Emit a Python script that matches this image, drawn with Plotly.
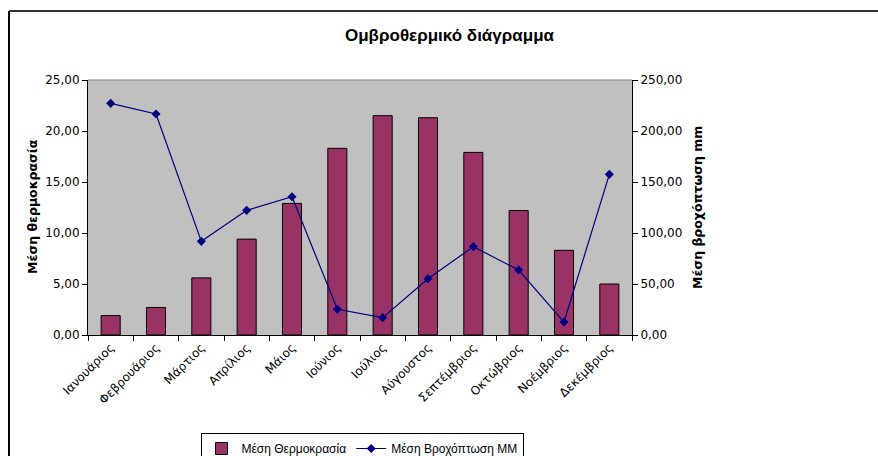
import plotly.graph_objects as go

months = ['Ιανουάριος', 'Φεβρουάριος', 'Μάρτιος', 'Απρίλιος', 'Μάιος', 'Ιούνιος',
          'Ιούλιος', 'Αύγουστος', 'Σεπτέμβριος', 'Οκτώβριος', 'Νοέμβριος', 'Δεκέμβριος']
mean_temp = [1.9, 2.7, 5.6, 9.4, 12.9, 18.3, 21.5, 21.3, 17.9, 12.2, 8.3, 5.0]
mean_rain = [227.1, 216.7, 91.8, 122.2, 135.6, 25.2, 17.0, 55.2, 86.6, 63.7, 12.7, 157.5]

W, H = 878, 456
L, R, T, B = 88, 632, 80, 335

fig = go.Figure()

fig.add_trace(go.Bar(
    x=months, y=mean_temp,
    name='Μέση Θερμοκρασία',
    marker=dict(color='#993366', line=dict(color='#000000', width=1)),
))

fig.add_trace(go.Scatter(
    x=months, y=mean_rain,
    name='Μέση Βροχόπτωση ΜΜ',
    mode='lines+markers',
    yaxis='y2',
    line=dict(color='#000080', width=1.2),
    marker=dict(symbol='diamond', size=7, color='#000080'),
))

axis_font = dict(family='DejaVu Sans', size=12, color='#000000')

def px_x(v):
    return (v - L) / (R - L)

def px_y(v):
    return (B - v) / (B - T)

fig.update_layout(
    width=W, height=H,
    margin=dict(l=L, r=W - R, t=T, b=H - B, autoexpand=False),
    paper_bgcolor='white',
    plot_bgcolor='#C0C0C0',
    separators=',.',
    bargap=0.58,
    showlegend=True,
    legend=dict(
        orientation='h', xref='container', yref='container',
        x=362 / W, xanchor='center', y=1 - 433 / H, yanchor='top',
        bordercolor='#000000', borderwidth=1,
        font=dict(family='Liberation Sans', size=12, color='#000000'),
        traceorder='normal', itemwidth=30,
        tracegroupgap=0,
    ),
    xaxis=dict(
        type='category', range=[-0.5, len(months) - 0.5],
        tickangle=-45, tickfont=axis_font, automargin=False,
        showline=True, linecolor='#000000', linewidth=1,
        ticks='outside', ticklen=5, tickcolor='#000000', tickson='boundaries',
        showgrid=False,
    ),
    yaxis=dict(
        range=[0, 25], dtick=5, tickformat='.2f', tickfont=axis_font, automargin=False,
        showline=True, linecolor='#000000', linewidth=1,
        ticks='outside', ticklen=5, tickcolor='#000000',
        showgrid=False, zeroline=False,
    ),
    yaxis2=dict(
        range=[0, 250], dtick=50, tickformat='.2f', tickfont=axis_font, automargin=False,
        overlaying='y', side='right',
        showline=True, linecolor='#000000', linewidth=1,
        ticks='outside', ticklen=5, tickcolor='#000000',
        showgrid=False, zeroline=False,
    ),
    annotations=[
        dict(text='<b>Ομβροθερμικό διάγραμμα</b>', xref='paper', yref='paper',
             x=px_x(450), y=px_y(36), xanchor='center', yanchor='middle', showarrow=False,
             font=dict(family='Liberation Sans', size=17, color='#000000')),
        dict(text='<b>Μέση θερμοκρασία</b>', xref='paper', yref='paper',
             x=px_x(32), y=px_y(207), xanchor='center', yanchor='middle',
             showarrow=False, textangle=-90,
             font=dict(family='DejaVu Sans', size=12.5, color='#000000')),
        dict(text='<b>Μέση βροχόπτωση mm</b>', xref='paper', yref='paper',
             x=px_x(697), y=px_y(208), xanchor='center', yanchor='middle',
             showarrow=False, textangle=-90,
             font=dict(family='DejaVu Sans', size=12.5, color='#000000')),
    ],
    shapes=[
        dict(type='line', xref='paper', yref='paper', x0=0, x1=1, y0=1, y1=1,
             line=dict(color='#808080', width=1)),
        dict(type='line', xref='paper', yref='paper',
             x0=px_x(9), x1=px_x(9), y0=px_y(11), y1=px_y(H + 5),
             line=dict(color='#000000', width=2)),
        dict(type='line', xref='paper', yref='paper',
             x0=px_x(9), x1=px_x(W + 5), y0=px_y(11), y1=px_y(11),
             line=dict(color='#333333', width=2)),
    ],
)

# page body has a default 8px margin; drop it so the figure sits at the corner
fig.write_html("out.html", config={'displayModeBar': False},
               post_script="document.body.style.margin='0';")
